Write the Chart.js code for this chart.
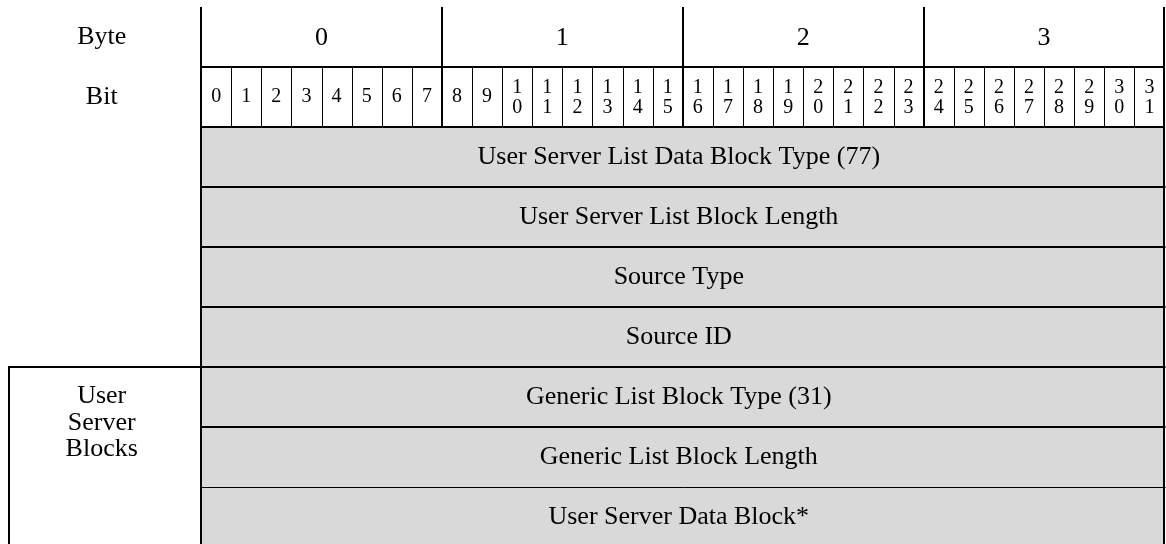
<!DOCTYPE html>
<html>
<head>
    <meta charset="utf-8">
    <title>User Server List Data Block</title>
    <script src="https://cdn.jsdelivr.net/npm/chart.js@4.4.1/dist/chart.umd.min.js"></script>
    <style>
        html, body { margin: 0; padding: 0; background: #fff; overflow: hidden; }
        #wrap { width: 1166px; height: 544px; overflow: hidden; }
        canvas { display: block; }
    </style>
</head>
<body>
<div id="wrap"><canvas id="packetChart" width="1166" height="547"></canvas></div>
<script>
    // header: byte numbers and the bits they cover
    const byteLabels = ['0', '1', '2', '3'];
    const byteStart = [0, 8, 16, 24];
    const byteEnd = [8, 16, 24, 32];
    const bitLabels = ['0', '1', '2', '3', '4', '5', '6', '7',
        '8', '9', '10', '11', '12', '13', '14', '15',
        '16', '17', '18', '19', '20', '21', '22', '23',
        '24', '25', '26', '27', '28', '29', '30', '31'];

    // field rows (bit ranges)
    const fieldNames = [
        'User Server List Data Block Type (77)',
        'User Server List Block Length',
        'Source Type',
        'Source ID',
        'Generic List Block Type (31)',
        'Generic List Block Length',
        'User Server Data Block*'
    ];
    const fieldStart = [0, 0, 0, 0, 0, 0, 0];
    const fieldEnd = [32, 32, 32, 32, 32, 32, 32];

    // side group label and the first field it spans
    const groupLabel = ['User', 'Server', 'Blocks'];
    const groupFirstField = 4;

    const rowLabels = ['Byte', 'Bit'].concat(fieldNames);

    const FONT = '"Liberation Serif", "Times New Roman", serif';
    const SIDE_X = -3.3;   // x value where the side labels are centred

    const packetPlugin = {
        id: 'packetLines',
        afterDatasetsDraw(chart) {
            const ctx = chart.ctx;
            const x = chart.scales.x;
            const y = chart.scales.y;
            const band = y.getPixelForValue(1) - y.getPixelForValue(0);
            const rowTop = i => y.getPixelForValue(i) - band / 2;
            const rowMid = i => y.getPixelForValue(i);
            const px = v => x.getPixelForValue(v);
            const bottom = rowTop(rowLabels.length);

            ctx.save();
            ctx.strokeStyle = '#000';
            ctx.lineCap = 'butt';

            function line(x1, y1, x2, y2, w) {
                const off = w % 2 ? 0.5 : 0;
                ctx.lineWidth = w;
                ctx.beginPath();
                if (x1 === x2) {
                    const xx = Math.round(x1) + off;
                    ctx.moveTo(xx, y1);
                    ctx.lineTo(xx, y2);
                } else {
                    const yy = Math.round(y1) + off;
                    ctx.moveTo(x1, yy);
                    ctx.lineTo(x2, yy);
                }
                ctx.stroke();
            }

            // thin bit cell dividers
            for (let b = 1; b < bitLabels.length; b++) {
                if (byteStart.indexOf(b) === -1) line(px(b), rowTop(1), px(b), rowTop(2), 1);
            }

            // horizontal lines under the headers and between fields
            line(px(0), rowTop(1), px(32), rowTop(1), 2);
            line(px(0), rowTop(2), px(32), rowTop(2), 2);
            for (let i = 1; i < fieldNames.length; i++) {
                const w = i === fieldNames.length - 1 ? 1 : 2;
                const x1 = i === groupFirstField ? x.left : px(0);
                line(x1, rowTop(2 + i), px(32) + 1, rowTop(2 + i), w);
            }

            // byte dividers and outer sides
            byteStart.forEach(s => {
                line(px(s), rowTop(0), px(s), s === 0 ? bottom : rowTop(2), 2);
            });
            line(px(32), rowTop(0), px(32), bottom, 2);

            // side group box
            const gTop = rowTop(2 + groupFirstField);
            line(x.left, gTop - 1, x.left, bottom, 2);

            // texts
            ctx.fillStyle = '#000';
            ctx.textAlign = 'center';
            ctx.textBaseline = 'alphabetic';

            ctx.font = '26px ' + FONT;
            ctx.fillText(rowLabels[0], px(SIDE_X), rowMid(0) + 7);
            ctx.fillText(rowLabels[1], px(SIDE_X), rowMid(1) + 7);
            byteLabels.forEach((lab, i) => {
                ctx.fillText(lab, (px(byteStart[i]) + px(byteEnd[i])) / 2, rowMid(0) + 8);
            });
            fieldNames.forEach((name, i) => {
                const cx = (px(fieldStart[i]) + px(fieldEnd[i])) / 2 - 4;
                ctx.fillText(name, cx, rowMid(2 + i) + 7);
            });
            groupLabel.forEach((t, k) => {
                ctx.fillText(t, px(SIDE_X), rowMid(2 + groupFirstField) + 6 + k * 26.5);
            });

            ctx.font = '20px ' + FONT;
            bitLabels.forEach((lab, b) => {
                const cx = px(b + 0.5);
                if (lab.length === 1) {
                    ctx.fillText(lab, cx, rowMid(1) + 4.5);
                } else {
                    ctx.fillText(lab[0], cx, rowMid(1) - 4.5);
                    ctx.fillText(lab[1], cx, rowMid(1) + 15.5);
                }
            });

            ctx.restore();
        }
    };

    const ctx = document.getElementById('packetChart').getContext('2d');
    const packetChart = new Chart(ctx, {
        type: 'bar',
        data: {
            labels: rowLabels,
            datasets: [{
                label: 'Fields',
                data: [null, null].concat(fieldNames.map((_, i) => [fieldStart[i], fieldEnd[i]])),
                backgroundColor: '#d9d9d9',
                borderWidth: 0,
                barPercentage: 1,
                categoryPercentage: 1,
                grouped: false
            }]
        },
        options: {
            indexAxis: 'y',
            responsive: false,
            animation: false,
            devicePixelRatio: 1,
            layout: { padding: { left: 9, right: 0, top: 7, bottom: 0 } },
            plugins: {
                legend: { display: false },
                tooltip: { enabled: false }
            },
            scales: {
                x: { type: 'linear', min: -6.38, max: 32.05, display: false },
                y: { type: 'category', display: false, offset: true }
            }
        },
        plugins: [packetPlugin]
    });
</script>
</body>
</html>
